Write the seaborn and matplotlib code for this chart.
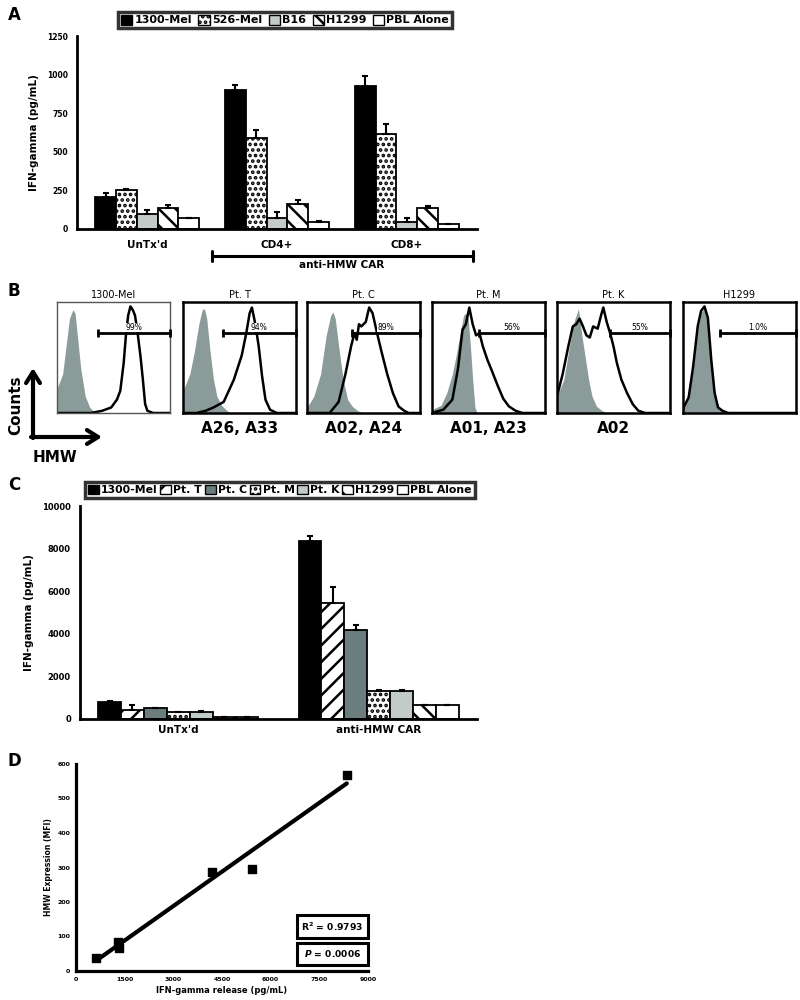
import numpy as np
import pandas as pd
import seaborn as sns
import matplotlib.pyplot as plt
from matplotlib.patches import Patch, Rectangle

sns.set_style('white')
plt.rcParams['font.family'] = ['DejaVu Sans']
plt.rcParams['font.weight'] = 'bold'
plt.rcParams['axes.labelweight'] = 'bold'
plt.rcParams['hatch.linewidth'] = 1.8
for key in ['text.color', 'axes.labelcolor', 'axes.edgecolor',
            'xtick.color', 'ytick.color']:
    plt.rcParams[key] = 'black'

W, H = 800, 1000

# panel A: IFN-gamma release of CD4+/CD8+ CAR T cells
a_groups = ["UnTx'd", "CD4+", "CD8+"]
a_targets = ['1300-Mel', '526-Mel', 'B16', 'H1299', 'PBL Alone']
a_mel1300 = [210, 898, 929]
a_mel526 = [250, 592, 618]
a_b16 = [100, 73, 45]
a_h1299 = [136, 160, 138]
a_pbl = [72, 46, 30]
a_mel1300_err = [20, 35, 60]
a_mel526_err = [12, 50, 60]
a_b16_err = [25, 37, 28]
a_h1299_err = [20, 30, 12]
a_pbl_err = [2, 3, 4]

# panel B: HMW staining of the targets
b_titles = ['1300-Mel', 'Pt. T', 'Pt. C', 'Pt. M', 'Pt. K', 'H1299']
b_pct = ['99%', '94%', '89%', '56%', '55%', '1.0%']
b_gate = [0.36, 0.35, 0.40, 0.42, 0.47, 0.33]
b_hla = ['', 'A26, A33', 'A02, A24', 'A01, A23', 'A02', '']

iso_x_mel = [0, .05, .08, .11, .14, .16, .18, .21, .25, .29, .33, .36]
iso_y_mel = [.22, .35, .6, .85, .93, .9, .7, .4, .15, .05, .01, 0]
hmw_x_mel = [0, .30, .40, .48, .53, .56, .59, .61, .63, .65, .67, .69, .71, .74, .76, .78, .80, .85, 1]
hmw_y_mel = [0, 0, .02, .05, .12, .2, .45, .7, .88, .96, .93, .88, .75, .5, .3, .08, .02, 0, 0]

iso_x_t = [0, .06, .10, .14, .17, .19, .21, .24, .27, .30, .34, .38, .42]
iso_y_t = [.2, .35, .55, .8, .93, .94, .85, .55, .3, .15, .07, .03, 0]
hmw_x_t = [0, .12, .20, .27, .36, .45, .52, .56, .59, .61, .64, .67, .70, .73, .77, .83, 1]
hmw_y_t = [0, 0, .02, .05, .1, .3, .52, .72, .9, .95, .8, .6, .33, .12, .03, 0, 0]

iso_x_c = [0, .06, .12, .17, .21, .23, .25, .28, .32, .36, .40, .45, .5]
iso_y_c = [.05, .15, .35, .7, .88, .91, .85, .6, .3, .12, .06, .02, 0]
hmw_x_c = [0, .2, .28, .34, .39, .42, .44, .46, .48, .52, .55, .58, .62, .66, .71, .76, .81, .86, .9, 1]
hmw_y_c = [0, 0, .1, .35, .6, .72, .66, .8, .78, .82, .95, .9, .72, .55, .35, .18, .06, .02, 0, 0]

iso_x_m = [0, .08, .13, .18, .22, .26, .28, .30, .32, .34, .36, .38, .4]
iso_y_m = [.03, .07, .18, .35, .55, .78, .88, .9, .85, .6, .3, .05, 0]
hmw_x_m = [0, .1, .18, .23, .27, .30, .33, .36, .39, .42, .45, .49, .53, .58, .63, .68, .74, .8, 1]
hmw_y_m = [0, .03, .12, .4, .75, .8, .95, .8, .7, .72, .6, .48, .38, .25, .13, .06, .02, 0, 0]

iso_x_k = [0, .06, .11, .15, .19, .22, .25, .28, .31, .35, .40, .45]
iso_y_k = [.15, .3, .6, .82, .94, .7, .5, .3, .15, .06, .02, 0]
hmw_x_k = [0, .05, .10, .14, .17, .20, .23, .26, .29, .32, .36, .39, .41, .44, .47, .50, .53, .57, .62, .67, .72, .78, 1]
hmw_y_k = [.15, .35, .6, .78, .8, .85, .78, .7, .68, .78, .76, .88, .95, .82, .72, .6, .45, .3, .18, .08, .02, 0, 0]

iso_x_h = [0, .05, .09, .13, .16, .19, .22, .25, .28, .31, .35, .4]
iso_y_h = [.05, .15, .4, .75, .9, .95, .85, .5, .2, .06, .02, 0]
hmw_x_h = [0, .05, .09, .13, .16, .19, .22, .25, .28, .31, .35, .4, 1]
hmw_y_h = [.04, .14, .42, .78, .92, .96, .86, .48, .18, .05, .02, 0, 0]

# panel C: IFN-gamma against patient lines
c_groups = ["UnTx'd", 'anti-HMW CAR']
c_targets = ['1300-Mel', 'Pt. T', 'Pt. C', 'Pt. M', 'Pt. K', 'H1299', 'PBL Alone']
c_mel1300 = [780, 8350]
c_pt_t = [430, 5430]
c_pt_c = [500, 4180]
c_pt_m = [310, 1300]
c_pt_k = [340, 1330]
c_h1299 = [100, 640]
c_pbl = [100, 650]
c_mel1300_err = [50, 230]
c_pt_t_err = [230, 750]
c_pt_c_err = [30, 220]
c_pt_m_err = [20, 50]
c_pt_k_err = [20, 30]
c_h1299_err = [5, 20]
c_pbl_err = [5, 30]

# panel D: correlation
d_ifn = [620, 1295, 1326, 4181, 5429, 8346]
d_mfi = [38, 85, 68, 288, 295, 568]

BLACK = 'black'
LIGHT = '#c3cbc9'
DARK = '#6b7d7d'
ISO = '#8b9b99'


def rect(x0, y0, x1, y1):
    return [x0 / W, 1 - y1 / H, (x1 - x0) / W, (y1 - y0) / H]


def long_df(groups, targets, series):
    rows = []
    for t, vals in zip(targets, series):
        for g, v in zip(groups, vals):
            rows.append({'group': g, 'target': t, 'value': v})
    return pd.DataFrame(rows)


def bar_panel(ax, groups, targets, series, errs, faces, hatches):
    df = long_df(groups, targets, series)
    sns.barplot(data=df, x='group', y='value', hue='target', order=groups,
                hue_order=targets, palette=dict(zip(targets, faces)),
                errorbar=None, width=0.8, gap=0, legend=False, ax=ax,
                edgecolor='black', linewidth=1.3, saturation=1)
    for cont, err, hat in zip(ax.containers, errs, hatches):
        xs, ys = [], []
        for p in cont.patches:
            p.set_hatch(hat)
            p.set_edgecolor('black')
            xs.append(p.get_x() + p.get_width() / 2)
            ys.append(p.get_height())
        ax.errorbar(xs, ys, yerr=[np.zeros(len(err)), err], fmt='none',
                    ecolor='black', elinewidth=1.5, capsize=2.5, capthick=1.5,
                    zorder=1)
    sns.despine(ax=ax)
    for s in ['left', 'bottom']:
        ax.spines[s].set_linewidth(2)
    ax.set_xlabel('')
    ax.set_xticks([i + 0.5 for i in range(len(groups) - 1)], minor=True)
    ax.tick_params(axis='x', which='major', length=0, labelsize=7.5)
    ax.tick_params(axis='x', which='minor', length=4, width=1.5, direction='out')
    ax.tick_params(axis='y', length=3, width=1.5, direction='out')


def bar_legend(fig, targets, faces, hatches, center, fs, colsp):
    handles = [Patch(facecolor=f, edgecolor='black', hatch=h, lw=1.0)
               for f, h in zip(faces, hatches)]
    leg = fig.legend(handles, targets, loc='center', bbox_to_anchor=center,
                     ncol=len(targets), fontsize=fs, handlelength=1.0,
                     handleheight=1.0, handletextpad=0.2, columnspacing=colsp,
                     borderpad=0.25, fancybox=False, frameon=True)
    leg.get_frame().set_edgecolor('black')
    leg.get_frame().set_linewidth(2.5)
    for t in leg.get_texts():
        t.set_fontweight('bold')


fig = plt.figure(figsize=(8, 10), dpi=100)

# ---- A
axA = fig.add_axes(rect(77, 36, 477, 229))
a_faces = [BLACK, 'white', LIGHT, 'white', 'white']
a_hatch = ['', '...', '', '\\\\', '']
bar_panel(axA, a_groups, a_targets,
          [a_mel1300, a_mel526, a_b16, a_h1299, a_pbl],
          [a_mel1300_err, a_mel526_err, a_b16_err, a_h1299_err, a_pbl_err],
          a_faces, a_hatch)
axA.set_ylim(0, 1250)
axA.set_yticks([0, 250, 500, 750, 1000, 1250])
axA.tick_params(axis='y', labelsize=5.5)
axA.tick_params(axis='x', which='major', pad=8)
axA.set_ylabel('IFN-gamma (pg/mL)', fontsize=7.5, labelpad=6)
bar_legend(fig, a_targets, a_faces, a_hatch, (285 / W, 1 - 20 / H), 8, 0.6)

# ---- B
b_x0 = [57, 183, 307, 432, 557, 683]
iso_curves = [(iso_x_mel, iso_y_mel), (iso_x_t, iso_y_t), (iso_x_c, iso_y_c),
              (iso_x_m, iso_y_m), (iso_x_k, iso_y_k), (iso_x_h, iso_y_h)]
hmw_curves = [(hmw_x_mel, hmw_y_mel), (hmw_x_t, hmw_y_t), (hmw_x_c, hmw_y_c),
              (hmw_x_m, hmw_y_m), (hmw_x_k, hmw_y_k), (hmw_x_h, hmw_y_h)]
for i, x0 in enumerate(b_x0):
    ax = fig.add_axes(rect(x0, 302, x0 + 113, 413))
    ix, iy = iso_curves[i]
    hx, hy = hmw_curves[i]
    ax.fill_between(ix, iy, color=ISO, lw=0)
    sns.lineplot(x=hx, y=hy, ax=ax, color='black', lw=1.8, estimator=None,
                 sort=False)
    ax.set_xlim(0, 1)
    ax.set_ylim(0, 1)
    ax.set_xticks([])
    ax.set_yticks([])
    for s in ax.spines.values():
        s.set_visible(True)
        s.set_linewidth(1.0 if i == 0 else 1.8)
        s.set_color('#555555' if i == 0 else 'black')
    g = b_gate[i]
    ax.plot([g, 1], [0.72, 0.72], color='black', lw=2, marker='|', ms=6,
            mew=2, clip_on=False, zorder=4)
    ax.text((g + 1) / 2, 0.73, b_pct[i], ha='center', va='bottom',
            fontsize=5.5, fontweight='normal', zorder=5,
            bbox=dict(facecolor='white', edgecolor='none', pad=0.3))
    ax.set_title(b_titles[i], fontsize=7, pad=3)
    if b_hla[i]:
        ax.text(0.5, -0.07, b_hla[i], transform=ax.transAxes, ha='center',
                va='top', fontsize=11)

# ---- C
axC = fig.add_axes(rect(80, 506, 477, 719))
c_faces = [BLACK, 'white', DARK, 'white', LIGHT, 'white', 'white']
c_hatch = ['', '//', '', '...', '', '\\\\', '']
bar_panel(axC, c_groups, c_targets,
          [c_mel1300, c_pt_t, c_pt_c, c_pt_m, c_pt_k, c_h1299, c_pbl],
          [c_mel1300_err, c_pt_t_err, c_pt_c_err, c_pt_m_err, c_pt_k_err,
           c_h1299_err, c_pbl_err],
          c_faces, c_hatch)
axC.set_ylim(0, 10000)
axC.set_yticks([0, 2000, 4000, 6000, 8000, 10000])
axC.tick_params(axis='y', labelsize=6)
axC.tick_params(axis='x', which='major', pad=4)
axC.set_ylabel('IFN-gamma (pg/mL)', fontsize=7.5, labelpad=6)
bar_legend(fig, c_targets, c_faces, c_hatch, (280 / W, 1 - 490 / H), 7.8, 0.25)

# ---- D
axD = fig.add_axes(rect(76, 764, 368, 971))
sns.regplot(x=d_ifn, y=d_mfi, ax=axD, ci=None, marker='s', color='black',
            scatter_kws={'s': 30, 'zorder': 3, 'alpha': 1},
            line_kws={'lw': 3})
sns.despine(ax=axD)
for s in ['left', 'bottom']:
    axD.spines[s].set_linewidth(2.3)
axD.set_xlim(0, 9000)
axD.set_ylim(0, 600)
axD.set_xticks([0, 1500, 3000, 4500, 6000, 7500, 9000])
axD.set_yticks([0, 100, 200, 300, 400, 500, 600])
axD.tick_params(labelsize=4.5, length=2, width=1.2, pad=2)
axD.set_xlabel('IFN-gamma release (pg/mL)', fontsize=6, labelpad=3)
axD.set_ylabel('HMW Expression (MFI)', fontsize=5.5, labelpad=3)
stat_boxes = [(0.16, 0.27, r'R$^2$ = 0.9793'), (0.03, 0.135, r'$\it{P}$ = 0.0006')]
for y0, y1, label in stat_boxes:
    axD.add_patch(Rectangle((0.757, y0), 0.243, y1 - y0, transform=axD.transAxes,
                            facecolor='white', edgecolor='black', lw=2.2,
                            clip_on=False, zorder=5))
    axD.text(0.8785, (y0 + y1) / 2, label, transform=axD.transAxes,
             ha='center', va='center', fontsize=6.6, zorder=6)

# ---- overlay for letters, bracket and axis arrows
ov = fig.add_axes([0, 0, 1, 1], zorder=10)
ov.set_xlim(0, W)
ov.set_ylim(H, 0)
ov.axis('off')
ov.patch.set_alpha(0)
for letter, y in [('A', 15), ('B', 291), ('C', 485), ('D', 761)]:
    ov.text(14, y, letter, fontsize=12, ha='center', va='center')
ov.plot([212, 473], [256, 256], color='black', lw=2.2)
ov.plot([212, 212], [251, 261], color='black', lw=2.2)
ov.plot([473, 473], [251, 261], color='black', lw=2.2)
ov.text(342, 265, 'anti-HMW CAR', ha='center', va='center', fontsize=7.5)
ov.annotate('', xy=(33, 368), xytext=(33, 438),
            arrowprops=dict(arrowstyle='->,head_length=0.8,head_width=0.5',
                            lw=3, color='black', shrinkA=0, shrinkB=0))
ov.annotate('', xy=(102, 437), xytext=(31, 437),
            arrowprops=dict(arrowstyle='->,head_length=0.8,head_width=0.5',
                            lw=3, color='black', shrinkA=0, shrinkB=0))
ov.text(16, 405, 'Counts', rotation=90, ha='center', va='center', fontsize=11)
ov.text(55, 458, 'HMW', ha='center', va='center', fontsize=11)

fig.savefig('out.png', dpi=100)
